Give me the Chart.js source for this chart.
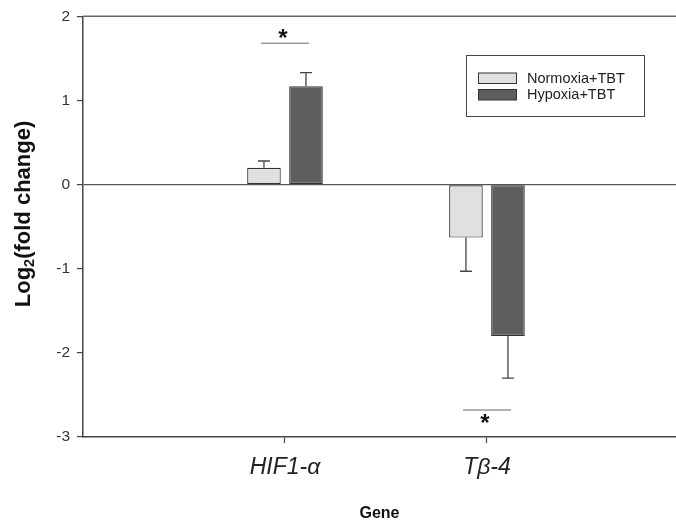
<!DOCTYPE html>
<html>
<head>
<meta charset="utf-8">
<script src="https://cdn.jsdelivr.net/npm/chart.js@4"></script>
<style>
  html, body { margin: 0; padding: 0; background: #fff; overflow: hidden; }
  #wrap { width: 676px; height: 522px; }
</style>
</head>
<body>
<div id="wrap"><canvas id="chart"></canvas></div>
<script>
// values (log2 fold change)
const categories = ['HIF1-α', 'Tβ-4'];
const normoxia = [0.20, -0.63];
const hypoxia = [1.17, -1.80];
const normoxiaErr = [0.08, 0.40];
const hypoxiaErr = [0.16, 0.50];
const sigLevel = [1.68, -2.68];   // significance bar height
const starLevel = [1.81, -2.77];  // asterisk centre
const yTicks = [-3, -2, -1, 0, 1, 2];

const FONT = "'Liberation Sans', Arial, sans-serif";

function toPoints(vals) {
  return vals.map((v, i) => ({ x: i + 1, y: v }));
}

// error bars, drawn away from zero
const errorBars = {
  id: 'errorBars',
  afterDatasetsDraw(chart) {
    const ctx = chart.ctx;
    const ys = chart.scales.y;
    chart.data.datasets.forEach((ds, d) => {
      const meta = chart.getDatasetMeta(d);
      meta.data.forEach((bar, i) => {
        const v = ds.data[i].y, e = ds.errors[i];
        const y2 = ys.getPixelForValue(v >= 0 ? v + e : v - e);
        ctx.save();
        ctx.strokeStyle = '#444';
        ctx.lineWidth = 1.3;
        ctx.beginPath();
        ctx.moveTo(bar.x, bar.y);
        ctx.lineTo(bar.x, y2);
        ctx.moveTo(bar.x - 6, y2);
        ctx.lineTo(bar.x + 6, y2);
        ctx.stroke();
        ctx.restore();
      });
    });
  }
};

// significance marks, frame lines, legend and y title
const extras = {
  id: 'extras',
  afterDraw(chart) {
    const ctx = chart.ctx;
    const { left, right, top } = chart.chartArea;
    const xs = chart.scales.x, ys = chart.scales.y;
    ctx.save();

    // top frame line
    ctx.strokeStyle = '#666';
    ctx.lineWidth = 1.5;
    ctx.beginPath();
    ctx.moveTo(left, top);
    ctx.lineTo(right, top);
    ctx.stroke();

    // significance
    categories.forEach((c, i) => {
      const cx = xs.getPixelForValue(i + 1);
      const ly = ys.getPixelForValue(sigLevel[i]);
      ctx.strokeStyle = '#999';
      ctx.lineWidth = 1.5;
      ctx.beginPath();
      ctx.moveTo(cx - 24, ly);
      ctx.lineTo(cx + 24, ly);
      ctx.stroke();
      const sy = ys.getPixelForValue(starLevel[i]);
      ctx.fillStyle = '#111';
      ctx.font = 'bold 24px ' + FONT;
      ctx.textAlign = 'center';
      ctx.textBaseline = 'alphabetic';
      ctx.fillText('*', cx - 2, sy + 13.5);
    });

    // legend
    ctx.strokeStyle = '#444';
    ctx.lineWidth = 1;
    ctx.strokeRect(466.5, 55.5, 178, 61);
    chart.data.datasets.forEach((ds, d) => {
      const y0 = 73 + d * 16.5;
      ctx.fillStyle = ds.backgroundColor;
      ctx.fillRect(478.5, y0, 38, 10.5);
      ctx.strokeStyle = '#333';
      ctx.strokeRect(478.5, y0, 38, 10.5);
      ctx.fillStyle = '#222';
      ctx.font = '14.5px ' + FONT;
      ctx.textAlign = 'left';
      ctx.textBaseline = 'middle';
      ctx.fillText(ds.label, 527, y0 + 5.5);
    });

    // y title with subscript
    ctx.translate(0, 214);
    ctx.rotate(-Math.PI / 2);
    ctx.fillStyle = '#111';
    ctx.textAlign = 'left';
    ctx.textBaseline = 'alphabetic';
    const big = 'bold 22px ' + FONT, small = 'bold 14.5px ' + FONT;
    ctx.font = big;
    const w1 = ctx.measureText('Log').width;
    const w3 = ctx.measureText('(fold change)').width;
    ctx.font = small;
    const w2 = ctx.measureText('2').width;
    let x = -(w1 + w2 + w3) / 2;
    const base = 29.5;
    ctx.font = big;
    ctx.fillText('Log', x, base);
    x += w1;
    ctx.font = small;
    ctx.fillText('2', x, base + 4);
    x += w2;
    ctx.font = big;
    ctx.fillText('(fold change)', x, base);

    ctx.restore();
  }
};

new Chart(document.getElementById('chart'), {
  type: 'bar',
  data: {
    datasets: [
      {
        label: 'Normoxia+TBT',
        data: toPoints(normoxia),
        errors: normoxiaErr,
        backgroundColor: '#e0e0e0',
        borderColor: '#333',
        borderWidth: 1.2,
        borderSkipped: false
      },
      {
        label: 'Hypoxia+TBT',
        data: toPoints(hypoxia),
        errors: hypoxiaErr,
        backgroundColor: '#5e5e5e',
        borderColor: '#333',
        borderWidth: 1.2,
        borderSkipped: false
      }
    ]
  },
  options: {
    responsive: true,
    maintainAspectRatio: false,
    animation: false,
    events: [],
    layout: { padding: { top: 15, right: 0, left: 0, bottom: 0 } },
    categoryPercentage: 0.416,
    barPercentage: 0.8,
    plugins: { legend: { display: false }, tooltip: { enabled: false } },
    scales: {
      x: {
        type: 'linear',
        offset: false,
        min: 0,
        max: 2.936,
        afterBuildTicks(scale) {
          scale.ticks = categories.map((c, i) => ({ value: i + 1 }));
        },
        afterFit(scale) { scale.height = 85; },
        grid: { offset: false, drawOnChartArea: false, tickLength: 6, tickColor: '#444', tickWidth: 1.2 },
        border: { color: '#444', width: 1.5 },
        ticks: {
          autoSkip: false,
          maxRotation: 0,
          padding: 11,
          color: '#222',
          font: { family: FONT, size: 23, style: 'italic' },
          callback: v => categories[v - 1] || ''
        },
        title: {
          display: true,
          text: 'Gene',
          color: '#111',
          font: { family: FONT, size: 16, weight: 'bold' },
          padding: { top: 29, bottom: -1 }
        }
      },
      y: {
        min: -3,
        max: 2,
        afterBuildTicks(scale) {
          scale.ticks = yTicks.map(v => ({ value: v }));
        },
        afterFit(scale) { scale.width = 83; },
        grid: {
          drawOnChartArea: true,
          tickLength: 6,
          tickWidth: 1.2,
          tickColor: '#444',
          color: ctx => (ctx.tick && ctx.tick.value === 0 ? '#555' : 'transparent'),
          lineWidth: 1.2
        },
        border: { color: '#444', width: 1.5 },
        ticks: {
          padding: 7,
          color: '#333',
          font: { family: FONT, size: 15.5 }
        }
      }
    }
  },
  plugins: [errorBars, extras]
});
</script>
</body>
</html>
